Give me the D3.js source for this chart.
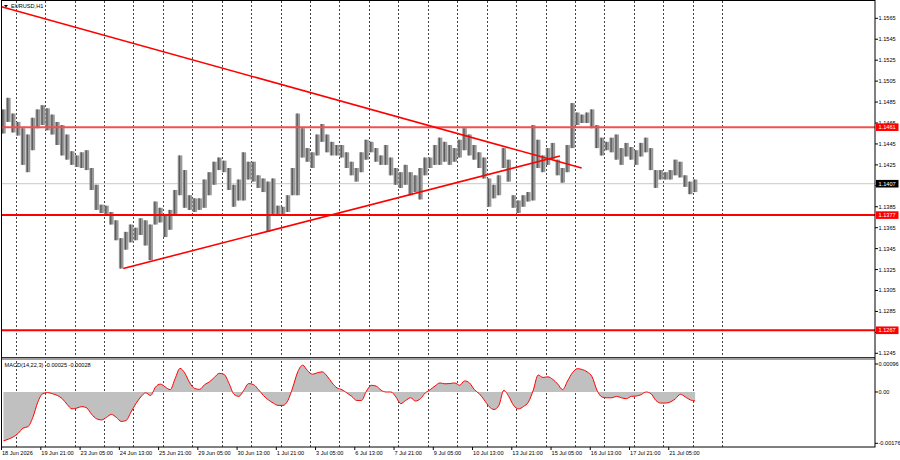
<!DOCTYPE html>
<html lang="en">
<head>
<meta charset="UTF-8">
<title>EURUSD,H1</title>
<script src="https://cdn.jsdelivr.net/npm/d3@7.9.0/dist/d3.min.js"></script>
<style>
  html, body { margin: 0; padding: 0; background: #fff; }
  svg { display: block; font-family: "Liberation Sans", Arial, sans-serif; }
</style>
</head>
<body>
<svg id="chart" width="900" height="460"></svg>
<script>
// 4-hour blocks of the H1 chart, starting 18 Jun 12:00
const barHigh = [
  1.1478, 1.1489, 1.1474, 1.1466, 1.1460, 1.1454, 1.1470, 1.1478, 1.1482, 1.1479,
  1.1473, 1.1466, 1.1463, 1.1454, 1.1438, 1.1434, 1.1437, 1.1439, 1.1422, 1.1406,
  1.1387, 1.1386, 1.1380, 1.1372, 1.1355, 1.1361, 1.1368, 1.1365, 1.1374, 1.1372,
  1.1368, 1.1390, 1.1384, 1.1377, 1.1382, 1.1401, 1.1434, 1.1420, 1.1396, 1.1393,
  1.1393, 1.1411, 1.1418, 1.1428, 1.1432, 1.1429, 1.1422, 1.1406, 1.1411, 1.1437,
  1.1428, 1.1428, 1.1415, 1.1412, 1.1409, 1.1412, 1.1386, 1.1385, 1.1396, 1.1422,
  1.1474, 1.1460, 1.1441, 1.1437, 1.1454, 1.1464, 1.1454, 1.1447, 1.1444, 1.1444,
  1.1437, 1.1428, 1.1422, 1.1437, 1.1449, 1.1447, 1.1441, 1.1434, 1.1444, 1.1432,
  1.1422, 1.1418, 1.1425, 1.1418, 1.1415, 1.1422, 1.1432, 1.1432, 1.1444, 1.1451,
  1.1447, 1.1444, 1.1441, 1.1449, 1.1460, 1.1454, 1.1444, 1.1437, 1.1432, 1.1412,
  1.1406, 1.1415, 1.1441, 1.1430, 1.1396, 1.1391, 1.1396, 1.1399, 1.1463, 1.1449,
  1.1434, 1.1441, 1.1446, 1.1430, 1.1422, 1.1444, 1.1484, 1.1475, 1.1473, 1.1475,
  1.1478, 1.1463, 1.1451, 1.1447, 1.1451, 1.1454, 1.1441, 1.1446, 1.1442, 1.1439,
  1.1446, 1.1451, 1.1441, 1.1420, 1.1420, 1.1418, 1.1420, 1.1430, 1.1428, 1.1415,
  1.1409, 1.1411
];
const barLow = [
  1.1455, 1.1466, 1.1456, 1.1453, 1.1425, 1.1418, 1.1439, 1.1460, 1.1463, 1.1458,
  1.1454, 1.1444, 1.1434, 1.1430, 1.1425, 1.1423, 1.1422, 1.1420, 1.1401, 1.1382,
  1.1379, 1.1378, 1.1368, 1.1353, 1.1326, 1.1344, 1.1351, 1.1353, 1.1358, 1.1348,
  1.1334, 1.1368, 1.1370, 1.1356, 1.1363, 1.1377, 1.1396, 1.1384, 1.1382, 1.1380,
  1.1382, 1.1384, 1.1396, 1.1406, 1.1420, 1.1418, 1.1401, 1.1385, 1.1391, 1.1391,
  1.1411, 1.1409, 1.1403, 1.1399, 1.1361, 1.1377, 1.1377, 1.1377, 1.1380, 1.1396,
  1.1396, 1.1432, 1.1428, 1.1422, 1.1434, 1.1447, 1.1437, 1.1434, 1.1434, 1.1432,
  1.1422, 1.1415, 1.1409, 1.1418, 1.1430, 1.1437, 1.1428, 1.1425, 1.1425, 1.1415,
  1.1406, 1.1403, 1.1406, 1.1396, 1.1399, 1.1392, 1.1415, 1.1422, 1.1425, 1.1425,
  1.1428, 1.1425, 1.1428, 1.1432, 1.1439, 1.1434, 1.1430, 1.1422, 1.1412, 1.1385,
  1.1393, 1.1396, 1.1422, 1.1409, 1.1384, 1.1379, 1.1385, 1.1390, 1.1391, 1.1422,
  1.1418, 1.1425, 1.1430, 1.1415, 1.1408, 1.1418, 1.1441, 1.1463, 1.1465, 1.1465,
  1.1460, 1.1441, 1.1434, 1.1439, 1.1437, 1.1430, 1.1425, 1.1433, 1.1430, 1.1425,
  1.1433, 1.1437, 1.1420, 1.1403, 1.1411, 1.1411, 1.1411, 1.1415, 1.1413, 1.1404,
  1.1397, 1.1399
];
const macdValues = [
  -0.00168, -0.00162, -0.00154, -0.00142, -0.00124, -0.00119, -0.00087, -0.00035, -0.00006, -0.00002,
  -0.00006, -0.00012, -0.00023, -0.00043, -0.00058, -0.00055, -0.00050, -0.00055, -0.00077, -0.00092,
  -0.00096, -0.00087, -0.00077, -0.00087, -0.00101, -0.00098, -0.00069, -0.00040, -0.00017, -0.00003,
  -0.00012, 0.00017, 0.00027, 0.00017, 0.00008, 0.00046, 0.00081, 0.00064, 0.00031, 0.00012,
  0.00009, 0.00025, 0.00035, 0.00050, 0.00064, 0.00060, 0.00029, -0.00008, -0.00015, 0.00006,
  0.00029, 0.00025, 0.00008, -0.00012, -0.00027, -0.00038, -0.00046, -0.00046, -0.00029, 0.00017,
  0.00069, 0.00092, 0.00073, 0.00061, 0.00066, 0.00069, 0.00054, 0.00031, 0.00014, 0.00008,
  -0.00003, -0.00015, -0.00029, -0.00029, 0.00003, 0.00023, 0.00020, 0.00006, 0.00000, 0.00000,
  -0.00017, -0.00040, -0.00029, -0.00020, -0.00031, -0.00023, -0.00003, 0.00008, 0.00021, 0.00031,
  0.00028, 0.00029, 0.00031, 0.00023, 0.00038, 0.00031, 0.00008, -0.00006, -0.00027, -0.00050,
  -0.00060, -0.00046, 0.00006, -0.00015, -0.00046, -0.00058, -0.00050, -0.00035, 0.00006, 0.00058,
  0.00050, 0.00052, 0.00043, 0.00027, 0.00008, 0.00038, 0.00066, 0.00080, 0.00077, 0.00069,
  0.00052, 0.00006, -0.00017, -0.00020, -0.00020, -0.00015, -0.00020, -0.00023, -0.00015, -0.00014,
  -0.00009, 0.00000, -0.00006, -0.00029, -0.00038, -0.00038, -0.00034, -0.00023, -0.00008, -0.00017,
  -0.00027, -0.00031
];

const levels = [1.1461, 1.1377, 1.1267];
const lastPrice = 1.1407;
// trend lines as [bar index, price]
const trendDown = [[12.5, 1.1576], [485.5, 1.1422]];
const trendUp = [[111.7, 1.1326], [467.8, 1.14335]];

const priceTicks = ["1.1565", "1.1545", "1.1525", "1.1505", "1.1485", "1.1465", "1.1445", "1.1425",
                    "1.1405", "1.1385", "1.1365", "1.1345", "1.1325", "1.1305", "1.1285", "1.1265", "1.1245"];
const macdTicks = ["0.00096", "0.00", "-0.00176"];
const timeLabels = ["18 Jun 2026", "19 Jun 21:00", "23 Jun 05:00", "24 Jun 13:00", "25 Jun 21:00",
                    "29 Jun 05:00", "30 Jun 13:00", "1 Jul 21:00", "3 Jul 05:00", "6 Jul 13:00",
                    "7 Jul 21:00", "9 Jul 05:00", "10 Jul 13:00", "13 Jul 21:00", "15 Jul 05:00",
                    "16 Jul 13:00", "17 Jul 21:00", "21 Jul 05:00"];

const firstBar = 12, blockBars = 4;
const right = 875, bottom = 447;

// trading hour index counted from 18 Jun 2026 00:00 (weekends skipped)
function barIndex(label) {
  const m = label.match(/(\d+) (\w+) (\d\d):(\d\d)/);
  if (!m) return firstBar;
  const months = { Jun: 5, Jul: 6 };
  const start = Date.UTC(2026, 5, 18);
  const day = Date.UTC(2026, months[m[2]], +m[1]);
  let n = 0;
  for (let t = start; t < day; t += 864e5) {
    const wd = new Date(t).getUTCDay();
    if (wd !== 0 && wd !== 6) n++;
  }
  return n * 24 + +m[3];
}

const svg = d3.select("#chart");
const x = d3.scaleLinear().domain([0, 600]).range([-13.73, 722.1]);
const y = d3.scaleLinear().domain([1.1565, 1.1245]).range([18.3, 353.3]);
const ym = d3.scaleLinear().domain([0.00096, -0.00176]).range([364, 443.3]);
const bx = i => x(firstBar + i * blockBars + 2);

svg.append("rect").attr("width", 900).attr("height", 460).attr("fill", "#fff");

// day grid
const gridBars = d3.range(24, 601, 24);
svg.append("g").selectAll("line").data(gridBars).enter().append("line")
  .attr("x1", d => Math.round(x(d)) + 0.5).attr("x2", d => Math.round(x(d)) + 0.5)
  .attr("y1", 1).attr("y2", bottom)
  .attr("stroke", "#444").attr("stroke-dasharray", "2,2");

// last price line
svg.append("line")
  .attr("x1", 1).attr("x2", right).attr("y1", y(lastPrice)).attr("y2", y(lastPrice))
  .attr("stroke", "#c8c8c8");

// price blocks
const blocks = barHigh.map((h, i) => ({ i, hi: h, lo: barLow[i] }));
const bg = svg.append("g");
bg.selectAll("rect").data(blocks).enter().append("rect")
  .attr("x", d => bx(d.i) - 2.3).attr("width", 4.6)
  .attr("y", d => y(d.hi)).attr("height", d => Math.max(1, y(d.lo) - y(d.hi)))
  .attr("fill", "#9a9a9a");
bg.selectAll("line").data(blocks).enter().append("line")
  .attr("x1", d => bx(d.i) - 0.6).attr("x2", d => bx(d.i) - 0.6)
  .attr("y1", d => y(d.hi)).attr("y2", d => y(d.lo))
  .attr("stroke", "#5a5a5a").attr("stroke-width", 1.3);

// horizontal levels
svg.append("g").selectAll("line").data(levels).enter().append("line")
  .attr("x1", 1).attr("x2", right).attr("y1", d => y(d)).attr("y2", d => y(d))
  .attr("stroke", (d, i) => i === 0 ? "#f25050" : "#f00").attr("stroke-width", 2);

// trend lines
[trendDown, trendUp].forEach(t => {
  svg.append("line")
    .attr("x1", x(t[0][0])).attr("y1", y(t[0][1]))
    .attr("x2", x(t[1][0])).attr("y2", y(t[1][1]))
    .attr("stroke", "#f00").attr("stroke-width", 1.6);
});

// MACD pane
const mg = svg.append("g");
mg.append("path").datum(macdValues)
  .attr("d", d3.area().x((d, i) => bx(i)).y0(ym(0)).y1(d => ym(d)).curve(d3.curveMonotoneX))
  .attr("fill", "#c0c0c0");
mg.append("path").datum(macdValues)
  .attr("d", d3.line().x((d, i) => bx(i)).y(d => ym(d)).curve(d3.curveMonotoneX))
  .attr("fill", "none").attr("stroke", "#f00").attr("stroke-width", 1);

// pane separator and frame
svg.append("rect").attr("x", 1).attr("y", 357).attr("width", right - 1).attr("height", 3).attr("fill", "#a0a0a0");
svg.append("line").attr("x1", 1).attr("x2", right).attr("y1", 357.5).attr("y2", 357.5).attr("stroke", "#333");
svg.append("rect").attr("x", 1.5).attr("y", 0.5).attr("width", right - 1.5).attr("height", bottom - 0.5)
  .attr("fill", "none").attr("stroke", "#000");

// right price axis; labels hidden behind a price tag are left out
const tags = [...levels.map(v => ({ v, c: "#f00" })), { v: lastPrice, c: "#000" }];
const axG = svg.append("g").attr("font-size", 5.6).attr("fill", "#000");
priceTicks.forEach(t => {
  const yy = y(+t);
  axG.append("line").attr("x1", right).attr("x2", right + 3).attr("y1", yy).attr("y2", yy).attr("stroke", "#000");
  if (tags.some(tg => Math.abs(y(tg.v) - yy) < 4)) return;
  axG.append("text").attr("x", right + 3.5).attr("y", yy + 2).text(t);
});
macdTicks.forEach(t => {
  const yy = ym(+t);
  axG.append("line").attr("x1", right).attr("x2", right + 3).attr("y1", yy).attr("y2", yy).attr("stroke", "#000");
  axG.append("text").attr("x", right + 3.5).attr("y", yy + 2).text(t);
});

// price tags
tags.forEach(tg => {
  const yy = y(tg.v);
  axG.append("rect").attr("x", right + 1).attr("y", yy - 3.8).attr("width", 22.5).attr("height", 7.6).attr("fill", tg.c);
  axG.append("text").attr("x", right + 3.5).attr("y", yy + 2).attr("fill", "#fff").text(tg.v.toFixed(4));
});

// time axis
const tG = svg.append("g").attr("font-size", 5.6).attr("fill", "#000");
timeLabels.forEach(lbl => {
  const xx = Math.max(1.5, x(barIndex(lbl)) - 0.6);
  tG.append("line").attr("x1", xx).attr("x2", xx).attr("y1", bottom).attr("y2", bottom + 3).attr("stroke", "#000");
  tG.append("text").attr("x", xx + 0.5).attr("y", 455).text(lbl);
});

// titles
svg.append("path").attr("d", "M4,5 L8,5 L6,7.5 Z").attr("fill", "#000");
svg.append("text").attr("x", 11).attr("y", 8).attr("font-size", 5.6).text("EURUSD,H1");
svg.append("text").attr("x", 4.5).attr("y", 367).attr("font-size", 5.6).text("MACD(14,22,3) -0.00025 -0.00028");
</script>
</body>
</html>
